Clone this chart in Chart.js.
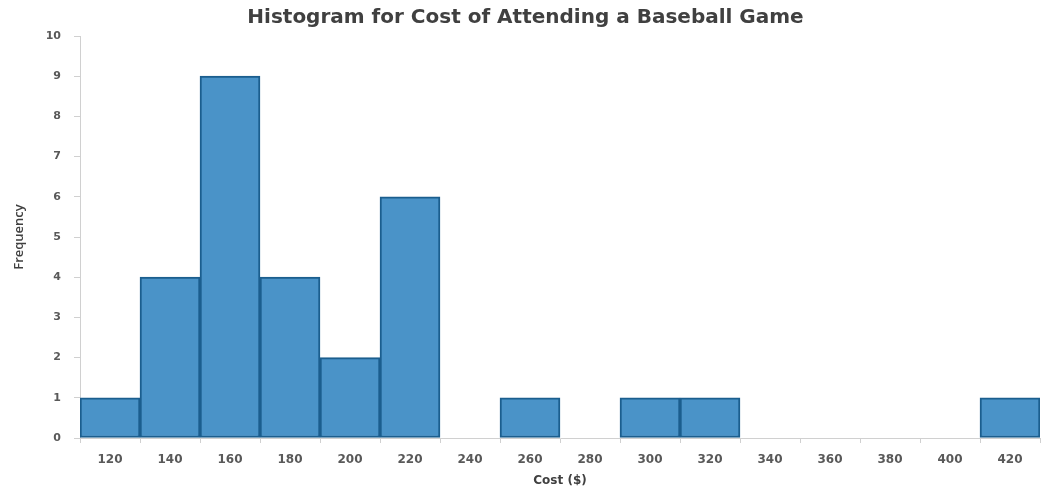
<!DOCTYPE html>
<html><head><meta charset="utf-8">
<script src="https://cdn.jsdelivr.net/npm/chart.js@4/dist/chart.umd.min.js"></script>
<style>html,body{margin:0;padding:0;background:#fff;overflow:hidden}#wrap{width:1041px;height:492px}</style>
</head><body><div id="wrap"><canvas id="c" width="1041" height="492"></canvas></div>
<script>
const categories = ['120','140','160','180','200','220','240','260','280','300','320','340','360','380','400','420'];
const frequency = [1,4,9,4,2,6,0,1,0,1,1,0,0,0,0,1];
const yTicks = [0,1,2,3,4,5,6,7,8,9,10];
const titleText = 'Histogram for Cost of Attending a Baseball Game';
const xTitle = 'Cost ($)';
const yTitle = 'Frequency';

const fontFam = "'DejaVu Sans','Open Sans',sans-serif";
new Chart(document.getElementById('c'), {
  type: 'bar',
  data: { labels: categories, datasets: [{ data: frequency, backgroundColor: '#4a93c8', borderColor: '#1b5e8e', borderWidth: 2, barPercentage: 1, categoryPercentage: 1, borderSkipped: false }] },
  options: {
    responsive: false, animation: false, devicePixelRatio: 1,
    layout: { padding: { left: 11, right: 1, top: 0, bottom: 0 } },
    plugins: {
      legend: { display: false }, tooltip: { enabled: false },
      title: { display: true, text: titleText, color: '#404040', font: { family: fontFam, size: 20, weight: 'bold' }, padding: { top: 6, bottom: 6 } }
    },
    scales: {
      x: {
        grid: { display: true, offset: true, drawOnChartArea: false, tickLength: 5, color: '#d0d0d0' },
        border: { color: '#d0d0d0' },
        ticks: { color: '#595959', font: { family: fontFam, size: 12, weight: 'bold' }, padding: 10, maxRotation: 0 },
        title: { display: true, text: xTitle, color: '#404040', font: { family: fontFam, size: 12, weight: 'bold' }, padding: { top: 2, bottom: 4 } },
        afterFit: s => { s.height = 54; }
      },
      y: {
        min: 0, max: 10,
        afterBuildTicks: s => { s.ticks = yTicks.map(v => ({ value: v })); },
        grid: { display: true, drawOnChartArea: false, tickLength: 6, color: '#d0d0d0' },
        border: { color: '#d0d0d0' },
        ticks: { color: '#595959', font: { family: fontFam, size: 11, weight: 'bold' }, padding: 13 },
        title: { display: true, text: yTitle, color: '#404040', font: { family: "'Open Sans',sans-serif", size: 13, weight: '600' }, padding: { top: 0, bottom: 0 } },
        afterFit: s => { s.width = 69; }
      }
    }
  }
});
</script></body></html>
